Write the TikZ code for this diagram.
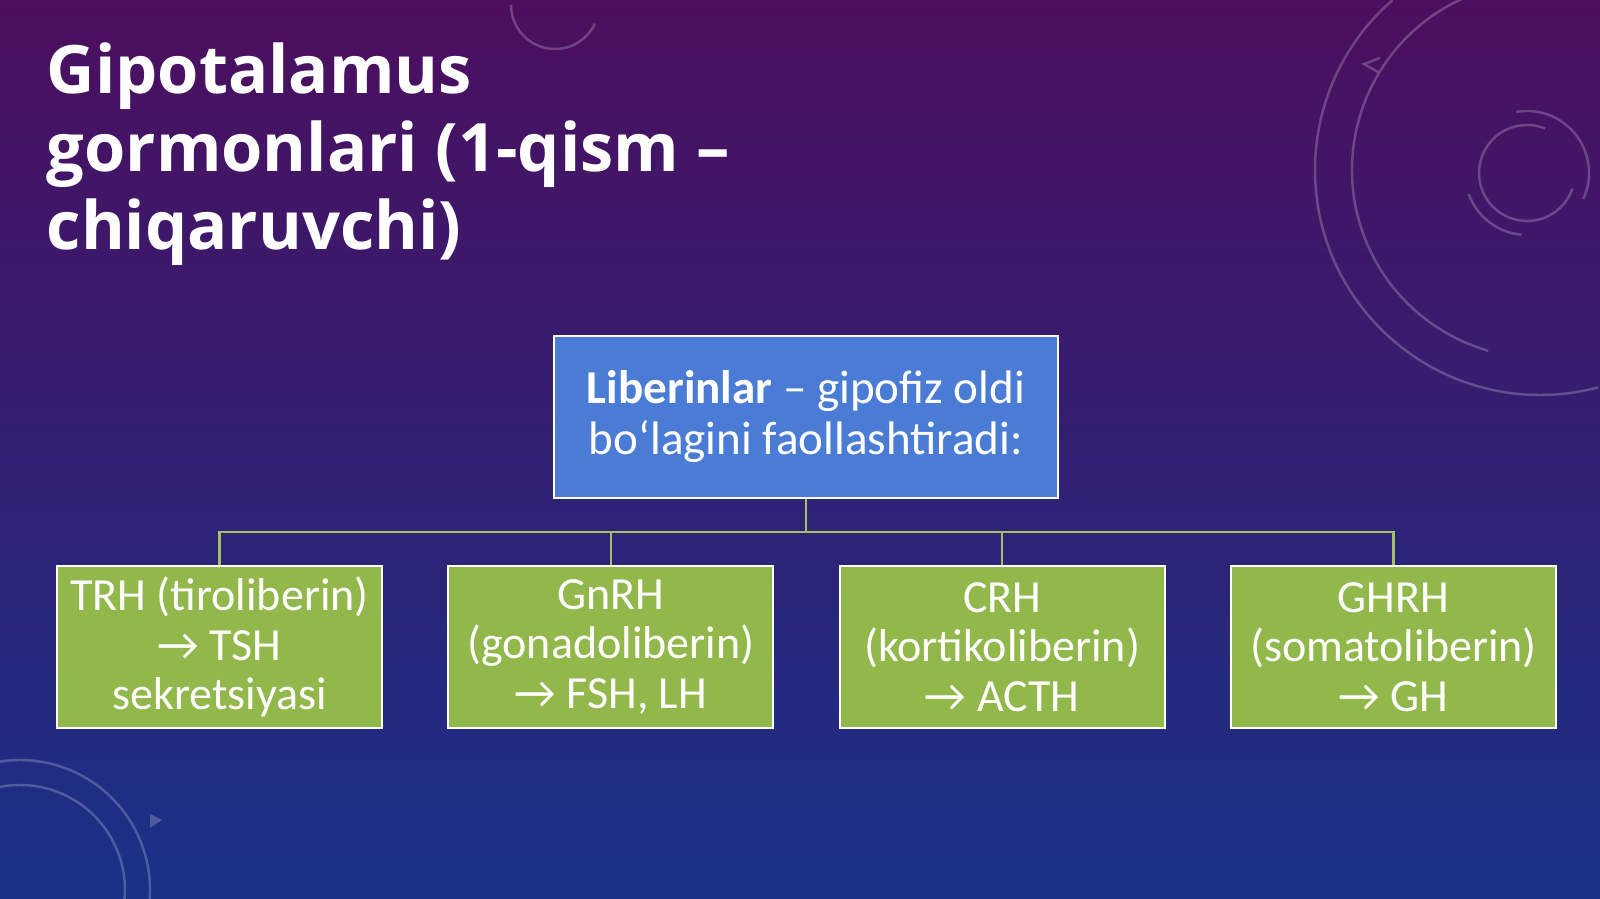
\documentclass[tikz,border=0pt]{standalone}
\usepackage{fontspec}
\setmainfont{Carlito}
\newfontfamily\titlefont{Open Sans}

\definecolor{bgtop}{RGB}{76,14,94}
\definecolor{bgmid}{RGB}{42,30,112}
\definecolor{bgbot}{RGB}{24,50,136}
\definecolor{libblue}{RGB}{74,124,214}
\definecolor{hormgreen}{RGB}{146,184,76}
\definecolor{linkgreen}{RGB}{165,192,100}

\begin{document}
\begin{tikzpicture}[
  deco/.style = {draw=white, opacity=.22, line width=.7pt},
  titletext/.style = {text=white, align=left, inner sep=0,
    font=\titlefont\bfseries\fontsize{19}{22.2}\selectfont},
  libbox/.style = {draw=white, line width=.6pt, fill=libblue, text=white,
    minimum width=5.04cm, minimum height=1.62cm, inner sep=0, align=center,
    font=\fontsize{13.4}{14.5}\selectfont},
  hormbox/.style = {draw=white, line width=.6pt, fill=hormgreen, text=white,
    minimum width=3.25cm, minimum height=1.62cm, inner sep=0, align=center,
    font=\fontsize{13.1}{14.1}\selectfont},
  link/.style = {draw=linkgreen, line width=.6pt}
]
\useasboundingbox (0,0) rectangle (16,-8.99);
\shade[top color=bgtop, middle color=bgmid, bottom color=bgbot]
      (0,0) rectangle (16,-8.99);

% decoration
\draw[deco] (15.40,-1.70) ++(131:2.25) arc[start angle=131, end angle=285, radius=2.25];
\draw[deco] (15.40,-1.70) ++(113:1.88) arc[start angle=113, end angle=254, radius=1.88];
\draw[deco] (15.27,-1.73) ++(68:.48) arc[start angle=68, end angle=341, radius=.48];
\draw[deco] (15.27,-1.73) ++(100:.62) arc[start angle=100, end angle=-25, radius=.62];
\draw[deco] (15.27,-1.73) ++(200:.62) arc[start angle=200, end angle=265, radius=.62];
\draw[deco] (13.80,-.58) -- (13.64,-.64) -- (13.78,-.72);
\draw[deco] (5.55,-.05) ++(180:.44) arc[start angle=180, end angle=335, radius=.44];
\draw[deco] (.20,-8.90) ++(100:1.30) arc[start angle=100, end angle=-5, radius=1.30];
\draw[deco] (.20,-8.90) ++(101:1.05) arc[start angle=101, end angle=-5, radius=1.05];
\fill[white, opacity=.22] (1.50,-8.14) -- (1.62,-8.20) -- (1.50,-8.28) -- cycle;

\node[titletext, anchor=north west] (title) at (.46,-.42)
  {Gipotalamus\\gormonlari (1-qism –\\chiqaruvchi)};

\node[libbox] (lib) at (8.06,-4.17)
  {\textbf{Liberinlar} – gipofiz oldi\\bo‘lagini faollashtiradi:};

\node[hormbox] (trh)  at (2.195,-6.47)  {TRH (tiroliberin)\\→ TSH\\sekretsiyasi};
\node[hormbox] (gnrh) at (6.108,-6.47)  {GnRH\\(gonadoliberin)\\→ FSH, LH};
\node[hormbox] (crh)  at (10.021,-6.47) {CRH\\(kortikoliberin)\\→ ACTH};
\node[hormbox] (ghrh) at (13.935,-6.47) {GHRH\\(somatoliberin)\\→ GH};

\coordinate (bus) at (8.06,-5.32);
\draw[link] (lib.south) -- (bus);
\draw[link] (trh.north) |- (bus);
\draw[link] (gnrh.north) |- (bus);
\draw[link] (crh.north) |- (bus);
\draw[link] (ghrh.north) |- (bus);
\end{tikzpicture}
\end{document}
